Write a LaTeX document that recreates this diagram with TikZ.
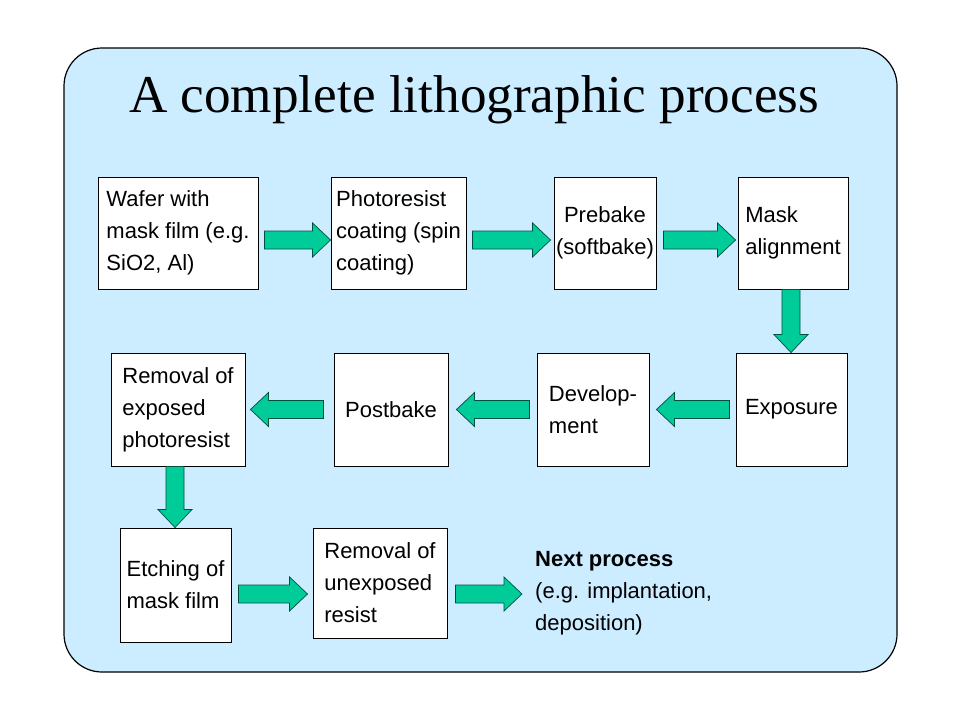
\documentclass[tikz,border=0pt]{standalone}
\usepackage{fontspec}
\setmainfont{Liberation Sans}
\newfontfamily\titlefont{Liberation Serif}
\usetikzlibrary{calc}
\definecolor{bgblue}{RGB}{204,236,255}
\definecolor{arrowgreen}{RGB}{0,204,153}
\definecolor{arrowedge}{RGB}{0,80,60}
\tikzset{
  stepbox/.style={draw=black, line width=0.9pt, fill=white, align=left,
    font=\fontsize{22}{32}\selectfont, inner sep=0pt},
  blockarrow/.style={draw=arrowedge, line width=0.7pt, fill=arrowgreen, line join=miter},
  panel/.style={draw=black, line width=1.2pt, fill=bgblue, rounded corners=38pt},
}
\newcommand\barrow[2]{%
  \coordinate (hb) at ($(#2)!18pt!(#1)$);
  \path[blockarrow] ($(#1)!9pt!90:(#2)$) -- ($(hb)!9pt!90:(#2)$) -- ($(hb)!17pt!90:(#2)$)
    -- (#2) -- ($(hb)!17pt!-90:(#2)$) -- ($(hb)!9pt!-90:(#2)$) -- ($(#1)!9pt!-90:(#2)$) -- cycle;}
\begin{document}
\begin{tikzpicture}[x=1pt,y=-1pt]
\useasboundingbox (0,0) rectangle (960,720);
\path[panel] (64,48) rectangle (897,672);
\node[anchor=base, font=\titlefont\fontsize{53.2}{60}\selectfont, inner sep=0pt] (title) at (474,112) {A complete lithographic process};

% row 1
\node[stepbox, minimum width=160pt, minimum height=112pt] (wafer) at (178,233) {Wafer with\\mask film (e.g.\\SiO2, Al)};
\node[stepbox, minimum width=135pt, minimum height=112pt] (photo) at (398.5,233) {Photoresist\\coating (spin\\coating)};
\node[stepbox, minimum width=102pt, minimum height=112pt, align=center] (prebake) at (605,233) {Prebake\\(softbake)};
\node[stepbox, minimum width=110pt, minimum height=112pt] (mask) at (793,233) {Mask\\alignment};
% row 2
\node[stepbox, minimum width=134pt, minimum height=113pt] (remexp) at (178,409.5) {Removal of\\exposed\\photoresist};
\node[stepbox, minimum width=114pt, minimum height=113pt] (postbake) at (391,409.5) {Postbake};
\node[stepbox, minimum width=112pt, minimum height=113pt] (develop) at (593,409.5) {Develop-\\ment};
\node[stepbox, minimum width=111pt, minimum height=113pt] (exposure) at (791.5,409.5) {Exposure};
% row 3
\node[stepbox, minimum width=111pt, minimum height=114pt] (etching) at (175.5,585) {Etching of\\mask film};
\node[stepbox, minimum width=134pt, minimum height=110pt] (remunexp) at (380,583) {Removal of\\unexposed\\resist};
\node[anchor=north west, align=left, inner sep=0pt, font=\fontsize{22}{32}\selectfont] (next) at (535,551)
  {\textbf{Next process}\\(e.g. implantation,\\deposition)};

% arrows
\coordinate (a1s) at ($(wafer.east)+(6,7)$);   \coordinate (a1e) at (photo.west |- a1s);
\coordinate (a2s) at ($(photo.east)+(6,7)$);   \coordinate (a2e) at ($(prebake.west |- a2s)+(-3,0)$);
\coordinate (a3s) at ($(prebake.east)+(7,7)$); \coordinate (a3e) at ($(mask.west |- a3s)+(-2,0)$);
\coordinate (d1s) at ($(mask.south)+(-2,0)$);  \coordinate (d1e) at (d1s |- exposure.north);
\coordinate (a4s) at ($(exposure.west)+(-6,0)$); \coordinate (a4e) at ($(develop.east |- a4s)+(7,0)$);
\coordinate (a5s) at ($(develop.west)+(-7,0)$);  \coordinate (a5e) at ($(postbake.east |- a5s)+(8,0)$);
\coordinate (a6s) at ($(postbake.west)+(-10,0)$); \coordinate (a6e) at ($(remexp.east |- a6s)+(5,0)$);
\coordinate (d2s) at ($(remexp.south)+(-3,0)$);  \coordinate (d2e) at (d2s |- etching.north);
\coordinate (a7s) at ($(etching.east)+(7,9)$); \coordinate (a7e) at ($(remunexp.west |- a7s)+(-5,0)$);
\coordinate (a8s) at ($(remunexp.east |- a7s)+(8,0)$); \coordinate (a8e) at ($(next.west |- a7s)+(-13,0)$);
\barrow{a1s}{a1e}
\barrow{a2s}{a2e}
\barrow{a3s}{a3e}
\barrow{d1s}{d1e}
\barrow{a4s}{a4e}
\barrow{a5s}{a5e}
\barrow{a6s}{a6e}
\barrow{d2s}{d2e}
\barrow{a7s}{a7e}
\barrow{a8s}{a8e}
\end{tikzpicture}
\end{document}
